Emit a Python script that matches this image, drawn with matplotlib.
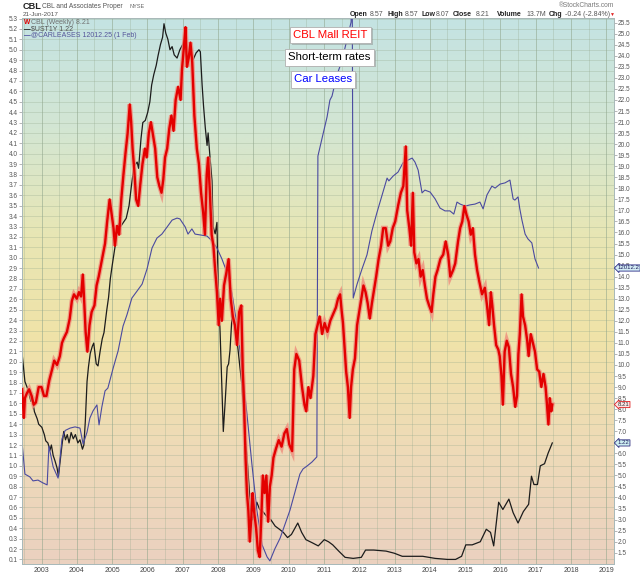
import matplotlib
matplotlib.use("Agg")
import matplotlib.pyplot as plt
import matplotlib.patheffects as pe
import matplotlib.transforms as mtransforms
from matplotlib.colors import LinearSegmentedColormap
import numpy as np

plt.rcParams['font.family'] = ['Liberation Sans', 'DejaVu Sans']

# ---------------- data (decimal years) ----------------
cbl_dates = [2002.45, 2002.50, 2002.53, 2002.58, 2002.65, 2002.72, 2002.78, 2002.84, 2002.92, 2003.00,
             2003.07, 2003.14, 2003.22, 2003.30, 2003.36, 2003.44, 2003.52, 2003.58, 2003.63, 2003.72,
             2003.80, 2003.86, 2003.92, 2004.00, 2004.06, 2004.12, 2004.17, 2004.20, 2004.25, 2004.30,
             2004.36, 2004.42, 2004.50, 2004.56, 2004.62, 2004.68, 2004.74, 2004.80, 2004.86, 2004.93,
             2004.98, 2005.04, 2005.08, 2005.14, 2005.20, 2005.26, 2005.32, 2005.38, 2005.44, 2005.50,
             2005.54, 2005.58, 2005.63, 2005.68, 2005.74, 2005.80, 2005.86, 2005.93, 2005.98, 2006.04,
             2006.10, 2006.16, 2006.22, 2006.28, 2006.34, 2006.40, 2006.45, 2006.50, 2006.56, 2006.62,
             2006.68, 2006.74, 2006.80, 2006.87, 2006.94, 2006.98, 2007.04, 2007.08, 2007.12, 2007.17,
             2007.22, 2007.27, 2007.33, 2007.40, 2007.46, 2007.52, 2007.58, 2007.63, 2007.68, 2007.72,
             2007.77, 2007.82, 2007.87, 2007.92, 2007.97, 2008.02, 2008.06, 2008.11, 2008.17, 2008.24,
             2008.30, 2008.36, 2008.42, 2008.48, 2008.54, 2008.60, 2008.66, 2008.70, 2008.74, 2008.78,
             2008.82, 2008.86, 2008.90, 2008.94, 2008.98, 2009.02, 2009.08, 2009.13, 2009.18, 2009.22,
             2009.27, 2009.32, 2009.37, 2009.42, 2009.47, 2009.52, 2009.57, 2009.64, 2009.72, 2009.80,
             2009.88, 2009.95, 2010.02, 2010.10, 2010.16, 2010.22, 2010.30, 2010.38, 2010.45, 2010.50,
             2010.56, 2010.62, 2010.70, 2010.76, 2010.82, 2010.88, 2010.95, 2011.02, 2011.10, 2011.18,
             2011.26, 2011.34, 2011.40, 2011.46, 2011.50, 2011.54, 2011.58, 2011.63, 2011.68, 2011.73,
             2011.77, 2011.82, 2011.88, 2011.94, 2012.00, 2012.06, 2012.12, 2012.18, 2012.24, 2012.30,
             2012.36, 2012.42, 2012.48, 2012.55, 2012.62, 2012.68, 2012.75, 2012.82, 2012.88, 2012.95,
             2013.02, 2013.10, 2013.18, 2013.25, 2013.32, 2013.36, 2013.42, 2013.47, 2013.52, 2013.56,
             2013.62, 2013.68, 2013.74, 2013.80, 2013.86, 2013.92, 2013.98, 2014.05, 2014.10, 2014.16,
             2014.22, 2014.30, 2014.38, 2014.45, 2014.52, 2014.58, 2014.66, 2014.72, 2014.80, 2014.86,
             2014.92, 2014.98, 2015.04, 2015.10, 2015.16, 2015.22, 2015.28, 2015.34, 2015.40, 2015.48,
             2015.56, 2015.62, 2015.68, 2015.73, 2015.77, 2015.82, 2015.88, 2015.94, 2015.98, 2016.03,
             2016.07, 2016.12, 2016.18, 2016.24, 2016.30, 2016.36, 2016.42, 2016.47, 2016.51, 2016.55,
             2016.60, 2016.64, 2016.70, 2016.76, 2016.80, 2016.86, 2016.92, 2016.98, 2017.04, 2017.10,
             2017.16, 2017.22, 2017.28, 2017.32, 2017.36, 2017.40, 2017.44, 2017.47]
cbl_close = [8.9, 7.6, 8.5, 8.7, 8.9, 8.6, 8.2, 8.3, 9.0, 9.0,
             8.6, 8.6, 9.3, 9.8, 10.2, 10.0, 10.4, 11.0, 11.2, 11.5,
             12.1, 12.9, 13.2, 13.0, 13.3, 13.1, 14.1, 13.2, 11.5, 10.6,
             11.8, 12.4, 12.7, 13.6, 14.0, 14.5, 15.0, 15.5, 16.5, 17.5,
             16.9, 16.2, 15.4, 16.3, 15.9, 17.5, 18.6, 19.6, 20.5, 21.8,
             21.0, 19.8, 18.8, 17.5, 17.2, 18.2, 19.1, 19.8, 19.4, 20.5,
             21.0, 20.4, 19.8, 18.5, 18.1, 17.8, 18.4, 19.4, 19.8, 20.7,
             21.3, 20.6, 22.0, 22.6, 22.0, 23.4, 24.5, 25.3, 23.5, 23.9,
             24.6, 23.7, 21.3, 19.8, 19.1, 17.8, 16.9, 15.9, 18.6, 19.4,
             17.8, 15.9, 15.4, 14.3, 13.3, 11.8, 13.0, 12.0, 13.6, 14.2,
             14.8, 13.0, 12.2, 11.8, 10.9, 12.4, 12.7, 9.8, 8.2, 5.8,
             4.2, 3.4, 2.0, 3.0, 4.2, 3.4, 2.6, 1.6, 1.3, 2.8,
             5.0, 4.2, 5.0, 2.9, 4.5, 5.0, 5.8, 6.2, 6.6, 6.3,
             6.9, 7.1, 6.4, 6.1, 9.8, 10.5, 10.2, 9.0, 8.2, 7.9,
             9.0, 8.5, 9.5, 11.4, 11.8, 12.2, 11.4, 11.9, 11.5, 12.0,
             12.3, 12.6, 13.0, 13.2, 12.5, 11.9, 10.9, 9.7, 9.0, 7.6,
             9.0, 9.8, 10.3, 11.8, 12.4, 13.0, 13.6, 13.3, 12.8, 12.1,
             12.8, 13.4, 14.0, 14.8, 15.4, 16.2, 16.2, 15.4, 15.6, 16.2,
             16.5, 17.2, 17.8, 18.1, 19.9, 17.0, 16.2, 15.4, 17.8, 15.1,
             14.6, 14.8, 14.0, 14.3, 13.6, 13.0, 12.7, 12.4, 13.2, 14.0,
             14.3, 14.8, 15.0, 15.6, 15.0, 14.0, 14.3, 14.6, 15.6, 16.2,
             16.5, 17.2, 16.8, 16.5, 15.9, 16.2, 15.0, 14.3, 13.8, 13.2,
             13.5, 12.7, 11.8, 13.3, 12.7, 11.8, 10.9, 10.7, 10.4, 9.5,
             8.2, 10.6, 11.1, 10.8, 9.6, 9.0, 8.1, 8.6, 10.5, 11.4,
             13.2, 12.2, 11.8, 11.1, 10.4, 11.4, 11.0, 10.6, 9.8, 9.7,
             9.0, 9.6, 9.0, 8.2, 7.3, 8.5, 7.9, 8.21]

ust_dates = [2002.45, 2002.53, 2002.62, 2002.70, 2002.73, 2002.80, 2002.88, 2002.92, 2003.01, 2003.08,
             2003.12, 2003.18, 2003.24, 2003.28, 2003.33, 2003.38, 2003.44, 2003.48, 2003.52, 2003.58,
             2003.63, 2003.68, 2003.73, 2003.78, 2003.84, 2003.90, 2003.96, 2004.03, 2004.09, 2004.16,
             2004.20, 2004.24, 2004.29, 2004.33, 2004.38, 2004.44, 2004.48, 2004.55, 2004.60, 2004.66,
             2004.72, 2004.77, 2004.85, 2004.90, 2004.95, 2005.00, 2005.08, 2005.14, 2005.20, 2005.24,
             2005.32, 2005.40, 2005.48, 2005.55, 2005.62, 2005.71, 2005.75, 2005.82, 2005.87, 2005.94,
             2006.01, 2006.07, 2006.12, 2006.18, 2006.25, 2006.30, 2006.37, 2006.43, 2006.47, 2006.52,
             2006.58, 2006.64, 2006.70, 2006.76, 2006.84, 2006.92, 2007.00, 2007.04, 2007.12, 2007.20,
             2007.29, 2007.38, 2007.46, 2007.50, 2007.55, 2007.59, 2007.64, 2007.69, 2007.72, 2007.77,
             2007.83, 2007.86, 2007.92, 2007.97, 2008.00, 2008.06, 2008.11, 2008.15, 2008.20, 2008.26,
             2008.30, 2008.34, 2008.40, 2008.43, 2008.48, 2008.54, 2008.57, 2008.62, 2008.68, 2008.71,
             2008.76, 2008.82, 2008.88, 2008.92, 2008.98, 2009.04, 2009.10, 2009.18, 2009.27, 2009.39,
             2009.50, 2009.62, 2009.74, 2009.85, 2009.97, 2010.08, 2010.18, 2010.26, 2010.37, 2010.49,
             2010.67, 2010.84, 2011.01, 2011.13, 2011.25, 2011.42, 2011.60, 2011.83, 2012.06, 2012.18,
             2012.41, 2012.76, 2012.99, 2013.22, 2013.45, 2013.80, 2014.15, 2014.50, 2014.73, 2014.90,
             2015.02, 2015.20, 2015.43, 2015.60, 2015.72, 2015.81, 2015.95, 2016.07, 2016.24, 2016.36,
             2016.50, 2016.65, 2016.80, 2016.88, 2016.95, 2017.05, 2017.13, 2017.25, 2017.35, 2017.47]
ust_yield = [2.08, 1.81, 1.73, 1.62, 1.66, 1.52, 1.45, 1.40, 1.37, 1.30,
             1.24, 1.22, 1.15, 1.20, 1.10, 1.05, 0.98, 0.90, 1.02, 1.20,
             1.33, 1.25, 1.30, 1.22, 1.32, 1.26, 1.30, 1.22, 1.25, 1.16,
             1.20, 1.42, 1.81, 1.95, 2.08, 2.15, 2.18, 1.98, 1.96, 2.10,
             2.22, 2.28, 2.50, 2.62, 2.80, 2.92, 3.10, 3.25, 3.33, 3.30,
             3.34, 3.38, 3.50, 3.70, 3.88, 3.92, 3.86, 4.15, 4.30, 4.32,
             4.40, 4.50, 4.66, 4.76, 4.85, 4.94, 5.05, 5.12, 5.25, 5.16,
             5.10, 5.00, 5.03, 4.95, 4.92, 5.00, 5.05, 5.10, 4.90, 4.97,
             4.90, 4.97, 5.00, 4.98, 4.66, 4.46, 4.25, 4.08, 4.20, 3.98,
             3.74, 3.30, 3.23, 3.34, 2.80, 2.28, 1.77, 1.33, 1.60, 1.95,
             1.98, 2.11, 2.46, 2.39, 2.35, 2.20, 2.11, 1.95, 1.77, 1.60,
             1.30, 1.09, 0.80, 0.58, 0.48, 0.55, 0.65, 0.58, 0.56, 0.51,
             0.48, 0.42, 0.39, 0.36, 0.31, 0.34, 0.40, 0.45, 0.36, 0.29,
             0.26, 0.23, 0.29, 0.27, 0.24, 0.18, 0.12, 0.11, 0.12, 0.19,
             0.19, 0.18, 0.16, 0.13, 0.13, 0.13, 0.11, 0.10, 0.10, 0.13,
             0.24, 0.24, 0.27, 0.39, 0.36, 0.23, 0.65, 0.58, 0.68, 0.55,
             0.45, 0.56, 0.63, 0.90, 0.82, 0.82, 1.00, 1.02, 1.12, 1.22]

lease_dates = [2002.45, 2002.53, 2002.67, 2002.76, 2002.90, 2003.04, 2003.16, 2003.21, 2003.33, 2003.47,
               2003.58, 2003.67, 2003.81, 2003.95, 2004.09, 2004.18, 2004.29, 2004.37, 2004.46, 2004.57,
               2004.63, 2004.71, 2004.80, 2004.88, 2005.03, 2005.17, 2005.31, 2005.42, 2005.56, 2005.71,
               2005.85, 2005.99, 2006.13, 2006.27, 2006.41, 2006.56, 2006.70, 2006.84, 2006.92, 2007.07,
               2007.15, 2007.26, 2007.35, 2007.49, 2007.69, 2007.83, 2007.97, 2008.11, 2008.26, 2008.40,
               2008.54, 2008.68, 2008.82, 2008.96, 2009.10, 2009.25, 2009.39, 2009.47, 2009.61, 2009.76,
               2009.90, 2010.04, 2010.18, 2010.32, 2010.41, 2010.52, 2010.66, 2010.80, 2010.83, 2010.97,
               2011.09, 2011.17, 2011.23, 2011.37, 2011.51, 2011.65, 2011.77, 2011.80, 2011.83, 2011.94,
               2012.08, 2012.22, 2012.36, 2012.50, 2012.65, 2012.79, 2012.84, 2012.96, 2013.10, 2013.24,
               2013.38, 2013.50, 2013.58, 2013.67, 2013.78, 2013.86, 2014.01, 2014.15, 2014.29, 2014.43,
               2014.57, 2014.68, 2014.77, 2014.86, 2015.00, 2015.14, 2015.28, 2015.42, 2015.51, 2015.62,
               2015.76, 2015.85, 2015.99, 2016.13, 2016.27, 2016.36, 2016.41, 2016.50, 2016.55, 2016.61,
               2016.70, 2016.78, 2016.89, 2016.98, 2017.08]
lease_value = [7640, 6860, 6790, 6690, 6710, 6640, 6590, 7560, 7040, 6760,
               7740, 7950, 8010, 8040, 8010, 7610, 7910, 8260, 8440, 8590,
               8090, 8540, 8940, 9010, 9510, 9940, 10560, 10840, 11260, 11440,
               11610, 11990, 12510, 12760, 12860, 13040, 13210, 13260, 13240, 13040,
               12860, 12990, 12860, 12840, 12810, 12690, 12510, 12240, 11890, 11360,
               10560, 9510, 8360, 7110, 5960, 5090, 4790, 4690, 4990, 5260,
               5610, 5960, 6410, 6860, 6990, 7060, 7160, 7290, 14810, 15340,
               15790, 16210, 16310, 16840, 17190, 17710, 18160, 19500, 11260, 11610,
               11990, 12340, 12940, 13390, 13840, 14260, 14190, 14310, 14410, 14640,
               14710, 14760, 14660, 14460, 13890, 13960, 13910, 13740, 13510, 13440,
               13440, 13360, 13660, 13610, 13560, 13590, 13610, 13660, 13490, 13840,
               14060, 14010, 14110, 14140, 14210, 13740, 13710, 13790, 13490, 13210,
               12860, 12740, 12640, 12240, 12012.25]

year_ticks = list(range(2003, 2020))
left_ticks = [round(0.1 * i, 1) for i in range(1, 54)]
right_ticks = [round(1.5 + 0.5 * i, 1) for i in range(49)]

# ---------------- figure ----------------
W, H = 640, 576
fig = plt.figure(figsize=(6.4, 5.76), dpi=100)
fig.patch.set_facecolor('white')

def fx(x):
    return x / W

def fy(y):
    return 1 - y / H

pos = [fx(21.7), fy(564), fx(614) - fx(21.7), fy(18) - fy(564)]

# gradient background
bg = fig.add_axes(pos, zorder=-5)
cmap = LinearSegmentedColormap.from_list('bg', [
    (0.00, '#c4e3e3'), (0.20, '#d3e6d3'), (0.40, '#e8e6b4'),
    (0.58, '#f0e3a8'), (0.80, '#eedab8'), (1.00, '#ebd1c0')])
grad = np.linspace(0, 1, 256).reshape(-1, 1)
bg.imshow(grad, aspect='auto', cmap=cmap, extent=[0, 1, 0, 1], origin='upper')
bg.set_axis_off()

ax = fig.add_axes(pos)
ax.set_facecolor('none')
ax_c = ax.twinx()
ax_r = ax.twinx()

xlim = (2002.439, 2019.218)
for a in (ax, ax_c, ax_r):
    a.set_xlim(*xlim)
ax.set_ylim(0.056, 5.305)
ax_r.set_ylim(0.988, 25.713)
ax_c.set_ylim(4612.25, 18262.25)

# grid
ax.set_xticks(year_ticks)
ax.set_xticks([y + 0.5 for y in range(2002, 2019)], minor=True)
ax.set_xticklabels([str(y) for y in year_ticks])
ax.set_yticks(left_ticks)
ax.set_yticklabels(['%.1f' % v for v in left_ticks])
ax.grid(which='major', axis='y', color='#93a88c', alpha=0.35, lw=0.6)
ax.grid(which='major', axis='x', color='#8ea48a', alpha=0.55, lw=0.7)
ax.grid(which='minor', axis='x', color='#93a88c', alpha=0.35, lw=0.6)
ax.set_axisbelow(True)

ax.tick_params(axis='x', which='both', length=0, pad=2.2, labelsize=5.0, labelcolor='#444444')
ax.tick_params(axis='y', length=2, width=0.5, color='#999999', pad=0.8, labelsize=4.7,
               labelcolor='#555555')

ax_r.set_yticks(right_ticks)
ax_r.set_yticklabels(['%.1f' % v for v in right_ticks])
ax_r.tick_params(axis='y', length=2, width=0.5, color='#999999', pad=0.8, labelsize=4.7,
                 labelcolor='#555555')
ax_c.set_yticks([])
ax_c.tick_params(axis='y', length=0, labelright=False)

for a in (ax, ax_c, ax_r):
    for s in a.spines.values():
        s.set_color('#a9b9b9')
        s.set_linewidth(0.7)

# series
ax.plot(ust_dates, ust_yield, color='#1c1c1c', lw=0.9, zorder=3)
ax_c.plot(lease_dates, lease_value, color='#4a4aa0', lw=0.8, zorder=3)
ax_r.plot(cbl_dates, cbl_close, color='#ee8c7c', lw=3.4, alpha=0.8, zorder=3,
          solid_joinstyle='miter')
ax_r.plot(cbl_dates, cbl_close, color='#e30000', lw=1.7, zorder=4)

# value tags on the right axis (drawn on the top axes so they cover tick labels)
def tag(src_axis, value, text, fc, ec, tc):
    tr = mtransforms.blended_transform_factory(ax_r.transAxes, src_axis.transData)
    ax_r.annotate(text, xy=(1, value), xycoords=tr,
                  xytext=(2.6, 0), textcoords='offset points', ha='left', va='center',
                  fontsize=4.3, color=tc, annotation_clip=False, zorder=10,
                  bbox=dict(boxstyle='larrow,pad=0.1', fc=fc, ec=ec, lw=0.6))

tag(ax_c, lease_value[-1], '12012.2', '#d3ecf4', '#2c2c88', '#1a1a5a')
tag(ax_r, cbl_close[-1], '%.2f' % cbl_close[-1], '#fbe4e4', '#e02020', '#333333')
tag(ax, ust_yield[-1], '%.2f' % ust_yield[-1], '#cdeef0', '#303080', '#202060')

# header
fig.text(fx(22.5), fy(6.5), 'CBL', fontsize=6.6, weight='bold', color='#222222', va='center')
fig.text(fx(41.5), fy(6.5), 'CBL and Associates Proper', fontsize=4.8, color='#555555', va='center')
fig.text(fx(130), fy(6.7), 'NYSE', fontsize=4.0, color='#666666', va='center')
fig.text(fx(22.5), fy(14.2), '21-Jun-2017', fontsize=4.6, color='#555555', va='center')
fig.text(fx(614), fy(5.5), '\u00aeStockCharts.com', fontsize=4.8, color='#777777',
         va='center', ha='right')

ohlc = [(350, 'Open', True), (370, '8.57', False), (387, 'High', True), (405, '8.57', False),
        (422, 'Low', True), (435.5, '8.07', False), (453, 'Close', True), (476, '8.21', False),
        (497, 'Volume', True), (526, '13.7M', False), (549, 'Chg', True),
        (565, '-0.24 (-2.84%)', False)]
for xp, s, b in ohlc:
    fig.text(fx(xp), fy(14.3), s, fontsize=5.0, weight='bold' if b else 'normal',
             color='#222222' if b else '#555555', va='center', ha='left')
fig.text(fx(610), fy(14.5), '\u25bc', fontsize=3.6, color='#e02020', va='center', ha='left')

# legend (top-left inside plot)
fig.text(fx(24), fy(22.7), 'W', fontsize=4.8, weight='bold', color='#e00000', va='center')
fig.text(fx(31), fy(22.7), 'CBL (Weekly) 8.21', fontsize=5.0, color='#707070', va='center')
fig.text(fx(24), fy(29.3), '\u2014', fontsize=4.8, weight='bold', color='#111111', va='center')
fig.text(fx(31), fy(29.3), '$UST1Y 1.22', fontsize=5.0, color='#505050', va='center')
fig.text(fx(24), fy(35.3), '\u2014', fontsize=4.8, weight='bold', color='#4a4aa0', va='center')
fig.text(fx(31), fy(35.3), '@CARLEASES 12012.25 (1 Feb)', fontsize=5.0, color='#55559a',
         va='center')

# annotation boxes
def label_box(xc, yc, text, color):
    t = fig.text(fx(xc), fy(yc), text, fontsize=8.2, color=color, ha='center', va='center',
                 zorder=20,
                 bbox=dict(boxstyle='square,pad=0.3', fc='white', ec='#b0b0b0', lw=0.6))
    t.get_bbox_patch().set_path_effects([
        pe.SimplePatchShadow(offset=(1.3, -1.3), shadow_rgbFace='#888888', alpha=0.45),
        pe.Normal()])

label_box(330.3, 35.0, 'CBL Mall REIT', '#ff0000')
label_box(329.5, 57.2, 'Short-term rates', '#000000')
label_box(323.0, 79.2, 'Car Leases', '#0000ff')

fig.savefig('out.png', dpi=100)
